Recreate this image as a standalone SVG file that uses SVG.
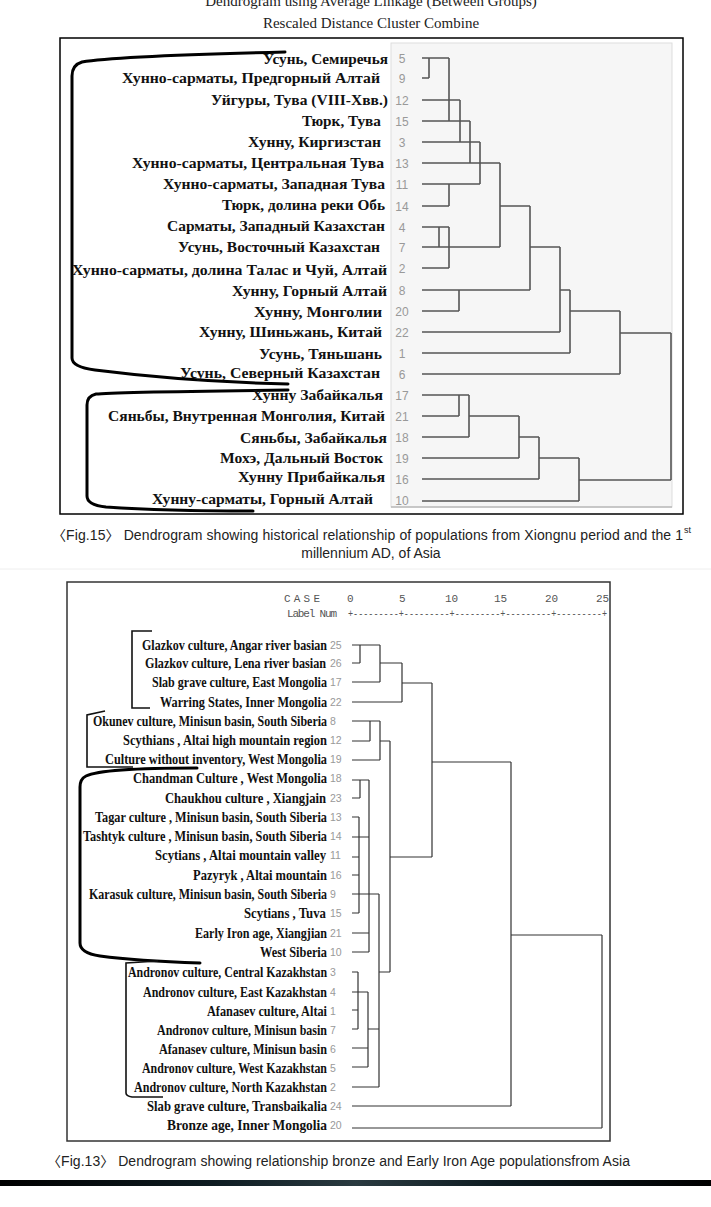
<svg xmlns="http://www.w3.org/2000/svg" width="711" height="1207" viewBox="0 0 711 1207">
<defs>
<style>
.hdr{font-family:"Liberation Serif",serif;font-size:15px;fill:#222;text-anchor:middle}
.lab1{font-family:"Liberation Serif",serif;font-weight:bold;font-size:15px;fill:#111;text-anchor:end}
.num1{font-family:"Liberation Sans",sans-serif;font-size:12px;fill:#999;text-anchor:middle}
.lab2{font-family:"Liberation Serif",serif;font-weight:bold;font-size:14px;fill:#111;text-anchor:end}
.num2{font-family:"Liberation Sans",sans-serif;font-size:10.5px;fill:#999;text-anchor:start}
.mono{font-family:"Liberation Mono",monospace;font-size:11px;fill:#555}
.cap{font-family:"Liberation Sans","Noto Sans CJK KR",sans-serif;font-size:14px;fill:#222}
.dg1{fill:none;stroke:#555;stroke-width:1.6}
.dg2{fill:none;stroke:#333;stroke-width:1.2}
.brk{fill:none;stroke:#000;stroke-width:3;stroke-linecap:round}
.brk2{fill:none;stroke:#111;stroke-width:1.6}
</style>
<linearGradient id="bar" x1="0" x2="1" y1="0" y2="0">
<stop offset="0" stop-color="#000"/>
<stop offset="0.3" stop-color="#0e1c22"/>
<stop offset="0.5" stop-color="#2a3a40"/>
<stop offset="0.7" stop-color="#0e1c22"/>
<stop offset="1" stop-color="#000"/>
</linearGradient>
</defs>
<rect width="711" height="1207" fill="#fff"/>

<!-- top figure -->
<text class="hdr" x="371" y="6">Dendrogram using Average Linkage (Between Groups)</text>
<text class="hdr" x="371" y="28">Rescaled Distance Cluster Combine</text>
<rect x="60" y="38" width="623" height="476" fill="none" stroke="#000" stroke-width="1.5"/>
<rect x="391" y="43" width="281" height="464" fill="#f6f6f6" stroke="#ddd" stroke-width="1"/>
<line x1="391" y1="507" x2="672" y2="507" stroke="#bbb" stroke-width="1.5"/>

<g id="top-brackets">
<path class="brk" d="M285,52 C200,54 110,57 82,62 Q72,65 72,76 L72,358 Q72,367 95,370 C150,377 210,382 288,384"/>
<path class="brk" d="M288,390 C200,391 112,392 96,394 Q87,396 87,405 L87,496 Q87,505 106,507 C150,510 200,511 253,511"/>
</g>

<g id="top-nodes">
<g id="t5"><text class="lab1" x="388" y="64" textLength="125" lengthAdjust="spacingAndGlyphs">Усунь, Семиречья</text><text class="num1" x="402" y="63">5</text></g>
<g id="t9"><text class="lab1" x="380" y="83" textLength="258" lengthAdjust="spacingAndGlyphs">Хунно-сарматы, Предгорный Алтай</text><text class="num1" x="402" y="83">9</text></g>
<g id="t12"><text class="lab1" x="388" y="105" textLength="177" lengthAdjust="spacingAndGlyphs">Уйгуры, Тува (VIII-Хвв.)</text><text class="num1" x="402" y="105">12</text></g>
<g id="t15"><text class="lab1" x="381" y="126" textLength="79" lengthAdjust="spacingAndGlyphs">Тюрк, Тува</text><text class="num1" x="402" y="126">15</text></g>
<g id="t3"><text class="lab1" x="381" y="147" textLength="133" lengthAdjust="spacingAndGlyphs">Хунну, Киргизстан</text><text class="num1" x="402" y="147">3</text></g>
<g id="t13"><text class="lab1" x="384" y="168" textLength="252" lengthAdjust="spacingAndGlyphs">Хунно-сарматы, Центральная Тува</text><text class="num1" x="402" y="168">13</text></g>
<g id="t11"><text class="lab1" x="385" y="189" textLength="222" lengthAdjust="spacingAndGlyphs">Хунно-сарматы, Западная Тува</text><text class="num1" x="402" y="189">11</text></g>
<g id="t14"><text class="lab1" x="385" y="210" textLength="163" lengthAdjust="spacingAndGlyphs">Тюрк, долина реки Обь</text><text class="num1" x="402" y="211">14</text></g>
<g id="t4"><text class="lab1" x="385" y="231" textLength="218" lengthAdjust="spacingAndGlyphs">Сарматы, Западный Казахстан</text><text class="num1" x="402" y="232">4</text></g>
<g id="t7"><text class="lab1" x="380" y="252" textLength="202" lengthAdjust="spacingAndGlyphs">Усунь, Восточный Казахстан</text><text class="num1" x="402" y="252">7</text></g>
<g id="t2"><text class="lab1" x="387" y="275" textLength="315" lengthAdjust="spacingAndGlyphs">Хунно-сарматы, долина  Талас и Чуй, Алтай</text><text class="num1" x="402" y="273">2</text></g>
<g id="t8"><text class="lab1" x="387" y="296" textLength="155" lengthAdjust="spacingAndGlyphs">Хунну, Горный Алтай</text><text class="num1" x="402" y="295">8</text></g>
<g id="t20"><text class="lab1" x="382" y="317" textLength="128" lengthAdjust="spacingAndGlyphs">Хунну, Монголии</text><text class="num1" x="402" y="316">20</text></g>
<g id="t22"><text class="lab1" x="382" y="337" textLength="183" lengthAdjust="spacingAndGlyphs">Хунну, Шиньжань, Китай</text><text class="num1" x="402" y="337">22</text></g>
<g id="t1"><text class="lab1" x="382" y="359" textLength="123" lengthAdjust="spacingAndGlyphs">Усунь, Тяньшань</text><text class="num1" x="402" y="358">1</text></g>
<g id="t6"><text class="lab1" x="380" y="378" textLength="200" lengthAdjust="spacingAndGlyphs">Усунь, Северный  Казахстан</text><text class="num1" x="402" y="379">6</text></g>
<g id="t17"><text class="lab1" x="383" y="400" textLength="131" lengthAdjust="spacingAndGlyphs">Хунну Забайкалья</text><text class="num1" x="402" y="400">17</text></g>
<g id="t21"><text class="lab1" x="385" y="421" textLength="277" lengthAdjust="spacingAndGlyphs">Сяньбы, Внутренная Монголия, Китай</text><text class="num1" x="402" y="421">21</text></g>
<g id="t18"><text class="lab1" x="387" y="443" textLength="147" lengthAdjust="spacingAndGlyphs">Сяньбы, Забайкалья</text><text class="num1" x="402" y="442">18</text></g>
<g id="t19"><text class="lab1" x="383" y="463" textLength="163" lengthAdjust="spacingAndGlyphs">Мохэ, Дальный Восток</text><text class="num1" x="402" y="463">19</text></g>
<g id="t16"><text class="lab1" x="385" y="482" textLength="147" lengthAdjust="spacingAndGlyphs">Хунну Прибайкалья</text><text class="num1" x="402" y="484">16</text></g>
<g id="t10"><text class="lab1" x="373" y="504" textLength="221" lengthAdjust="spacingAndGlyphs">Хунну-сарматы, Горный Алтай</text><text class="num1" x="402" y="505">10</text></g>
</g>

<g id="top-connectors">
<path class="dg1" d="M422,58H449 M429,58V78 M422,78H429 M449,58V121 M422,121H470 M422,100H460 M460,100V142 M422,142H480 M470,121V163 M422,163H500 M480,142V184 M422,184H480 M449,184V206 M422,206H449 M500,163V247 M422,227H449 M439,227V247 M422,247H500 M449,227V268 M422,268H449 M500,206H530 M530,206V290 M422,290H530 M459,290V311 M422,311H459 M530,247H560 M560,247V332 M422,332H560 M560,290H570 M570,290V353 M422,353H570 M570,311H620 M620,311V374 M422,374H620 M620,333H671 M671,333V480 M579,480H671"/>
<path class="dg1" d="M422,395H469 M459,395V416 M422,416H459 M469,416H519 M469,395V437 M422,437H469 M519,437H539 M519,416V458 M422,458H519 M539,458H579 M539,437V479 M422,479H539 M579,458V501 M422,501H579"/>
</g>

<g id="caption15">
<text class="cap" x="52" y="540" textLength="631" lengthAdjust="spacing">〈Fig.15〉 Dendrogram showing historical relationship of populations from Xiongnu period and the 1</text>
<text class="cap" x="684" y="533" style="font-size:9px">st</text>
<text class="cap" x="371" y="558" text-anchor="middle">millennium AD, of Asia</text>
</g>
<line x1="0" y1="569" x2="711" y2="569" stroke="#eee" stroke-width="1"/>

<!-- bottom figure -->
<rect x="67" y="582" width="543" height="559" fill="none" stroke="#333" stroke-width="1.5"/>
<g id="axis">
<text class="mono" x="284" y="602" textLength="36">C A S E</text>
<text class="mono" x="287" y="617" textLength="50">Label Num</text>
<text class="mono" x="347" y="602">0</text>
<text class="mono" x="399" y="602">5</text>
<text class="mono" x="445" y="602">10</text>
<text class="mono" x="494" y="602">15</text>
<text class="mono" x="545" y="602">20</text>
<text class="mono" x="596" y="602">25</text>
<text class="mono" x="348" y="617" textLength="259" lengthAdjust="spacingAndGlyphs">+---------+---------+---------+---------+---------+</text>
</g>

<g id="bottom-brackets">
<path class="brk2" d="M152,631 H132 V708 H150"/>
<path class="brk2" d="M105,711 L87,715 V767 H133"/>
<path class="brk" d="M197,768 C150,768 98,770 86,776 Q80,779 80,787 L80,943 Q80,953 100,956 C130,960 170,962 200,963"/>
<path class="brk2" d="M158,961 L126,963 V1093 Q126,1096 132,1097 H163"/>
</g>

<g id="bottom-nodes">
<g id="b25"><text class="lab2" x="327" y="650" textLength="185" lengthAdjust="spacingAndGlyphs">Glazkov culture, Angar river basian</text><text class="num2" x="330" y="649">25</text></g>
<g id="b26"><text class="lab2" x="326" y="668" textLength="181" lengthAdjust="spacingAndGlyphs">Glazkov culture, Lena river basian</text><text class="num2" x="330" y="667">26</text></g>
<g id="b17"><text class="lab2" x="327" y="687" textLength="175" lengthAdjust="spacingAndGlyphs">Slab grave culture, East Mongolia</text><text class="num2" x="330" y="686">17</text></g>
<g id="b22"><text class="lab2" x="327" y="707" textLength="167" lengthAdjust="spacingAndGlyphs">Warring States, Inner Mongolia</text><text class="num2" x="330" y="706">22</text></g>
<g id="b8"><text class="lab2" x="327" y="726" textLength="234" lengthAdjust="spacingAndGlyphs">Okunev culture, Minisun basin, South Siberia</text><text class="num2" x="330" y="725">8</text></g>
<g id="b12"><text class="lab2" x="327" y="745" textLength="204" lengthAdjust="spacingAndGlyphs">Scythians , Altai high mountain region</text><text class="num2" x="330" y="744">12</text></g>
<g id="b19"><text class="lab2" x="327" y="764" textLength="222" lengthAdjust="spacingAndGlyphs">Culture without inventory, West Mongolia</text><text class="num2" x="330" y="763">19</text></g>
<g id="b18"><text class="lab2" x="327" y="783" textLength="194" lengthAdjust="spacingAndGlyphs">Chandman Culture , West Mongolia</text><text class="num2" x="330" y="782">18</text></g>
<g id="b23"><text class="lab2" x="326" y="803" textLength="161" lengthAdjust="spacingAndGlyphs">Chaukhou culture , Xiangjain</text><text class="num2" x="330" y="802">23</text></g>
<g id="b13"><text class="lab2" x="327" y="822" textLength="232" lengthAdjust="spacingAndGlyphs">Tagar culture , Minisun basin, South Siberia</text><text class="num2" x="330" y="821">13</text></g>
<g id="b14"><text class="lab2" x="327" y="841" textLength="244" lengthAdjust="spacingAndGlyphs">Tashtyk culture , Minisun basin, South Siberia</text><text class="num2" x="330" y="840">14</text></g>
<g id="b11"><text class="lab2" x="326" y="860" textLength="171" lengthAdjust="spacingAndGlyphs">Scytians , Altai mountain valley</text><text class="num2" x="330" y="859">11</text></g>
<g id="b16"><text class="lab2" x="327" y="880" textLength="134" lengthAdjust="spacingAndGlyphs">Pazyryk , Altai mountain</text><text class="num2" x="330" y="879">16</text></g>
<g id="b9"><text class="lab2" x="327" y="899" textLength="238" lengthAdjust="spacingAndGlyphs">Karasuk culture, Minisun basin, South Siberia</text><text class="num2" x="330" y="898">9</text></g>
<g id="b15"><text class="lab2" x="326" y="918" textLength="82" lengthAdjust="spacingAndGlyphs">Scytians , Tuva</text><text class="num2" x="330" y="917">15</text></g>
<g id="b21"><text class="lab2" x="327" y="938" textLength="132" lengthAdjust="spacingAndGlyphs">Early Iron age, Xiangjian</text><text class="num2" x="330" y="937">21</text></g>
<g id="b10"><text class="lab2" x="327" y="957" textLength="67" lengthAdjust="spacingAndGlyphs">West Siberia</text><text class="num2" x="330" y="956">10</text></g>
<g id="b3"><text class="lab2" x="327" y="977" textLength="199" lengthAdjust="spacingAndGlyphs">Andronov culture, Central Kazakhstan</text><text class="num2" x="330" y="976">3</text></g>
<g id="b4"><text class="lab2" x="327" y="997" textLength="184" lengthAdjust="spacingAndGlyphs">Andronov culture, East Kazakhstan</text><text class="num2" x="330" y="996">4</text></g>
<g id="b1"><text class="lab2" x="327" y="1016" textLength="120" lengthAdjust="spacingAndGlyphs">Afanasev culture, Altai</text><text class="num2" x="330" y="1015">1</text></g>
<g id="b7"><text class="lab2" x="327" y="1035" textLength="170" lengthAdjust="spacingAndGlyphs">Andronov culture, Minisun basin</text><text class="num2" x="330" y="1034">7</text></g>
<g id="b6"><text class="lab2" x="327" y="1054" textLength="168" lengthAdjust="spacingAndGlyphs">Afanasev culture, Minisun basin</text><text class="num2" x="330" y="1053">6</text></g>
<g id="b5"><text class="lab2" x="327" y="1073" textLength="185" lengthAdjust="spacingAndGlyphs">Andronov culture, West Kazakhstan</text><text class="num2" x="330" y="1072">5</text></g>
<g id="b2"><text class="lab2" x="327" y="1092" textLength="193" lengthAdjust="spacingAndGlyphs">Andronov culture, North Kazakhstan</text><text class="num2" x="330" y="1091">2</text></g>
<g id="b24"><text class="lab2" x="327" y="1111" textLength="180" lengthAdjust="spacingAndGlyphs">Slab grave culture, Transbaikalia</text><text class="num2" x="330" y="1110">24</text></g>
<g id="b20"><text class="lab2" x="327" y="1130" textLength="160" lengthAdjust="spacingAndGlyphs">Bronze age, Inner Mongolia</text><text class="num2" x="330" y="1129">20</text></g>
</g>

<g id="bottom-connectors">
<path class="dg2" d="M352,645H380 M360,645V663 M352,663H360 M380,663H402 M380,645V682 M352,682H380 M402,663V702 M352,702H402 M402,683H432 M432,683V857 M352,721H380 M370,721V741 M352,741H370 M380,741H390 M380,721V760 M352,760H380 M390,741V972 M390,857H432 M432,762H511 M511,762V1106"/>
<path class="dg2" d="M352,780H369 M360,780V798 M352,798H360 M352,817H359 M352,837H369 M352,857H359 M352,875H359 M352,894H379 M359,817V913 M352,913H359 M369,780V952 M352,933H369 M352,952H369 M379,894V1087 M379,972H390 M352,972H358 M358,972V1029 M352,992H368 M352,1010H358 M352,1029H358 M368,1029H379 M368,992V1067 M352,1048H368 M352,1067H368 M352,1087H379 M352,1106H511 M511,935H602 M602,935V1128 M352,1128H602"/>
</g>

<g id="caption13">
<text class="cap" x="47" y="1166" textLength="583" lengthAdjust="spacing">〈Fig.13〉 Dendrogram showing relationship bronze and Early Iron Age populationsfrom Asia</text>
</g>
<rect x="0" y="1180" width="711" height="6" fill="url(#bar)"/>
</svg>
